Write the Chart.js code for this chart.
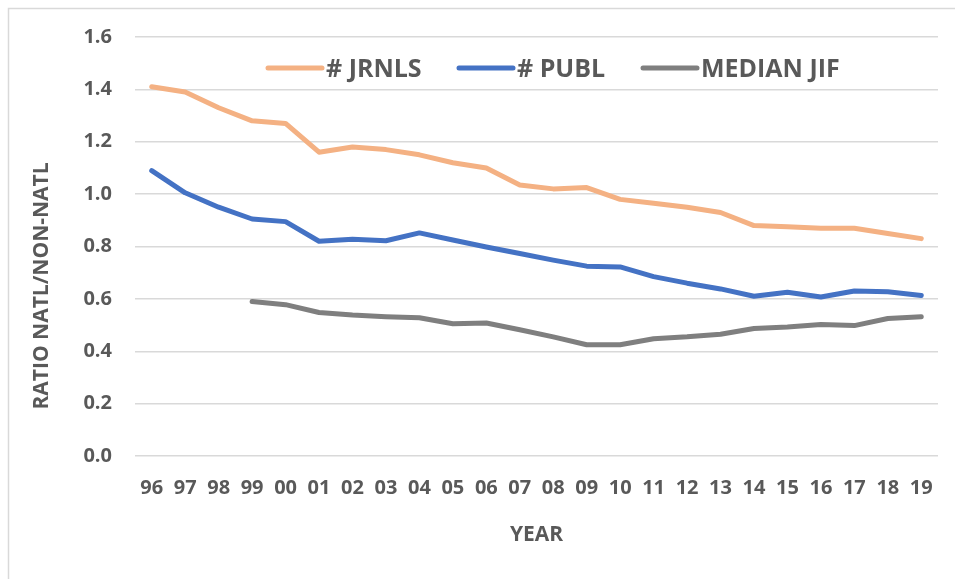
<!DOCTYPE html>
<html>
<head>
<meta charset="utf-8">
<script src="https://cdn.jsdelivr.net/npm/chart.js@4"></script>
<style>
  html, body { margin: 0; padding: 0; background: #ffffff; }
  #wrap { position: relative; width: 955px; height: 579px; }
</style>
</head>
<body>
<div id="wrap"><canvas id="ratioChart"></canvas></div>
<script>
// data
const years = ['96','97','98','99','00','01','02','03','04','05','06','07','08','09','10','11','12','13','14','15','16','17','18','19'];
const jrnls = [1.41, 1.39, 1.33, 1.28, 1.27, 1.16, 1.18, 1.17, 1.15, 1.12, 1.10, 1.035, 1.02, 1.025, 0.98, 0.965, 0.95, 0.93, 0.88, 0.875, 0.87, 0.87, 0.85, 0.83];
const publ = [1.09, 1.005, 0.95, 0.905, 0.895, 0.82, 0.828, 0.822, 0.852, 0.825, 0.798, 0.773, 0.748, 0.725, 0.722, 0.685, 0.66, 0.638, 0.61, 0.625, 0.607, 0.63, 0.627, 0.613];
const medianJif = [null, null, null, 0.59, 0.578, 0.548, 0.538, 0.532, 0.528, 0.505, 0.508, 0.482, 0.455, 0.425, 0.425, 0.448, 0.455, 0.465, 0.487, 0.493, 0.502, 0.498, 0.525, 0.532];
const seriesNames = ['# JRNLS', '# PUBL', 'MEDIAN JIF'];
const seriesColors = ['#F4B183', '#4472C4', '#7F7F7F'];
const yTicks = [0, 0.2, 0.4, 0.6, 0.8, 1.0, 1.2, 1.4, 1.6];

const textColor = '#595959';
const gridColor = '#D9D9D9';
const fontFamily = "'Open Sans', 'DejaVu Sans', sans-serif";

document.addEventListener('DOMContentLoaded', function() {
    const ctx = document.getElementById('ratioChart').getContext('2d');

    // frame, y title and the in-plot legend
    const extras = {
        id: 'extras',
        beforeDraw(chart) {
            const c = chart.ctx;
            c.save();
            c.strokeStyle = gridColor;
            c.lineWidth = 1.5;
            c.strokeRect(8.5, 8.5, 1200, 1200);
            c.restore();
        },
        afterDraw(chart) {
            const c = chart.ctx;
            c.save();
            c.fillStyle = textColor;
            c.font = 'bold 21px ' + fontFamily;
            c.textAlign = 'center';
            c.textBaseline = 'middle';
            c.translate(42, 286);
            c.rotate(-Math.PI / 2);
            c.fillText('RATIO NATL/NON-NATL', 0, 0);
            c.restore();

            const legendX = [268, 459, 643];
            c.save();
            c.font = 'bold 25px ' + fontFamily;
            c.textBaseline = 'alphabetic';
            c.textAlign = 'left';
            seriesNames.forEach(function(name, i) {
                c.strokeStyle = seriesColors[i];
                c.lineWidth = 5;
                c.lineCap = 'round';
                c.beginPath();
                c.moveTo(legendX[i], 68);
                c.lineTo(legendX[i] + 54, 68);
                c.stroke();
                c.fillStyle = textColor;
                c.fillText(name, legendX[i] + 58, 77);
            });
            c.restore();
        }
    };

    const lineDataset = function(label, values, color) {
        return {
            label: label,
            data: values,
            borderColor: color,
            backgroundColor: color,
            borderWidth: 5,
            borderCapStyle: 'round',
            borderJoinStyle: 'round',
            pointRadius: 0,
            tension: 0,
            fill: false
        };
    };

    new Chart(ctx, {
        type: 'line',
        data: {
            labels: years,
            datasets: [
                lineDataset(seriesNames[0], jrnls, seriesColors[0]),
                lineDataset(seriesNames[1], publ, seriesColors[1]),
                lineDataset(seriesNames[2], medianJif, seriesColors[2])
            ]
        },
        options: {
            responsive: true,
            maintainAspectRatio: false,
            animation: false,
            layout: { padding: { left: 0, top: 37, right: 17, bottom: 0 } },
            plugins: {
                legend: { display: false },
                tooltip: { enabled: false }
            },
            scales: {
                x: {
                    offset: true,
                    grid: { display: false, drawTicks: false },
                    border: { display: false },
                    ticks: {
                        color: textColor,
                        font: { family: fontFamily, size: 20, weight: 'bold' },
                        padding: 20,
                        maxRotation: 0,
                        autoSkip: false
                    },
                    title: {
                        display: true,
                        text: 'YEAR',
                        color: textColor,
                        font: { family: fontFamily, size: 21, weight: 'bold' },
                        padding: { top: 0, bottom: 31 }
                    },
                    afterFit(scale) { scale.height = 123; }
                },
                y: {
                    min: 0,
                    max: 1.6,
                    afterBuildTicks(scale) {
                        scale.ticks = yTicks.map(function(v) { return { value: v }; });
                    },
                    grid: { color: gridColor, lineWidth: 1.5, drawTicks: false },
                    border: { display: false },
                    ticks: {
                        color: textColor,
                        font: { family: fontFamily, size: 20, weight: 'bold' },
                        padding: 23,
                        callback: function(v) { return Number(v).toFixed(1); }
                    },
                    afterFit(scale) { scale.width = 135; }
                }
            }
        },
        plugins: [extras]
    });
});
</script>
</body>
</html>
